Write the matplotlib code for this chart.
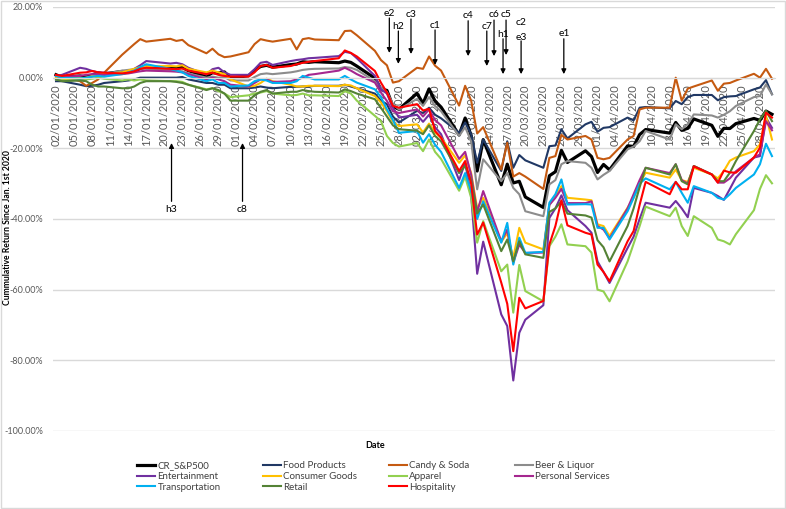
import matplotlib
matplotlib.use("Agg")
import matplotlib.pyplot as plt
import matplotlib.dates as mdates
from matplotlib.patches import Rectangle
import pandas as pd

plt.rcParams['font.family'] = ['Lato', 'DejaVu Sans']

# __ trading days Jan 2 - Apr 30 2020 __
dates = pd.bdate_range('2020-01-02', '2020-04-30')
dates = dates.drop(pd.to_datetime(['2020-01-20', '2020-02-17', '2020-04-10']))

# __ cumulative (log) returns in % __
sp500 = [0.83, 0.13, 0.48, 0.20, 0.69, 1.35, 1.06, 1.76, 1.61, 1.80, 2.63, 3.01, 2.75, 2.78, 2.89, 1.98, 0.40, 1.40, 1.31, 1.62, -0.16,
         0.56, 2.05, 3.17, 3.50, 2.96, 3.69, 3.86, 4.50, 4.34, 4.52, 4.23, 4.70, 4.32, 3.26, -0.15, -3.23, -3.61, -8.12, -8.95,
         -4.45, -7.29, -3.17, -6.62, -8.34, -16.24, -11.42, -16.43, -26.42, -17.54, -30.30, -24.48, -29.80, -29.33, -33.77, -36.74, -27.77, -26.62, -20.57, -24.00, -20.70, -22.32,
         -26.83, -24.57, -26.10, -19.30, -19.46, -16.11, -14.68, -15.69, -12.68, -14.91, -14.33, -11.68, -13.49, -16.60, -14.33, -14.39, -13.01, -11.55, -12.07, -9.45, -10.37]
food = [-1.0, -1.0, -2.0, -2.4, -2.3, -2.0, -1.5, -1.0, -0.8, -0.5, 0.0, 0.0, 0.0, 0.0, 0.2, -0.5, -1.5, -1.5, -2.0, -2.0, -3.0,
        -3.0, -2.8, -2.5, -2.8, -3.0, -2.6, -2.6, -2.5, -2.5, -2.3, -2.3, -2.0, -2.5, -3.0, -4.5, -6.5, -7.5, -11.0, -12.7,
        -9.4, -10.0, -8.5, -10.5, -11.5, -15.6, -12.7, -16.0, -24.1, -17.5, -26.4, -18.0, -25.5, -21.9, -23.4, -25.5, -19.4, -19.2, -14.6, -17.2, -13.2, -12.5,
        -15.3, -14.2, -14.0, -11.3, -12.1, -8.5, -8.3, -8.7, -6.6, -7.5, -5.5, -4.9, -4.9, -6.4, -5.5, -5.3, -5.2, -3.3, -2.8, -0.7, -4.7]
candy = [0.5, 0.3, -1.0, -2.3, -1.5, -0.5, 1.4, 6.5, 8.0, 9.5, 10.9, 10.2, 11.0, 10.4, 10.7, 9.2, 6.9, 8.2, 6.6, 5.8, 6.0,
         7.2, 9.5, 10.9, 10.5, 10.2, 11.0, 8.0, 10.9, 11.2, 10.8, 10.6, 13.2, 13.3, 12.0, 7.6, 5.0, 3.5, -1.4, -1.0,
         2.8, 2.5, 6.0, 3.4, 2.0, -7.9, -2.3, -6.5, -15.8, -14.0, -26.0, -18.4, -28.0, -27.0, -28.0, -31.5, -22.7, -22.2, -16.2, -17.5, -16.5, -17.5,
         -22.7, -23.1, -22.7, -17.5, -16.5, -9.0, -8.5, -8.5, 0.0, -6.5, -3.1, -2.5, -0.8, -3.7, -1.7, -1.5, -0.8, 1.1, 0.0, 2.5, -0.3]
beer = [0.2, 0.0, -0.3, -0.5, 0.3, 1.0, 1.0, 2.0, 2.2, 2.4, 2.6, 2.5, 2.2, 2.0, 1.8, 1.2, 0.0, 0.3, 0.0, 0.2, -0.8,
        -0.8, 0.2, 1.0, 1.2, 1.0, 1.5, 1.8, 2.2, 2.4, 2.5, 2.6, 3.0, 2.8, 2.2, -1.0, -2.8, -4.0, -7.5, -9.0,
        -6.0, -8.0, -5.5, -8.0, -9.5, -16.5, -14.0, -18.0, -31.6, -23.1, -29.3, -27.0, -31.2, -33.0, -37.8, -39.2, -30.2, -29.0, -24.5, -23.6, -24.1, -25.5,
        -28.8, -27.5, -26.4, -20.3, -19.5, -18.0, -15.1, -17.5, -13.2, -14.6, -13.2, -10.4, -10.7, -11.3, -10.5, -9.5, -8.0, -5.5, -5.2, -1.9, -4.7]
entertainment = [0.5, 0.8, 2.8, 2.5, 1.9, 1.5, 1.4, 1.2, 1.5, 2.5, 3.5, 4.7, 4.0, 4.2, 3.8, 2.8, 0.9, 2.4, 2.8, 1.5, 0.8,
                 0.8, 2.4, 4.2, 4.5, 3.6, 4.7, 5.0, 5.2, 5.5, 5.6, 6.1, 7.3, 7.0, 5.5, 0.5, -3.3, -4.5, -8.5, -11.3,
                 -10.5, -12.5, -10.5, -14.0, -16.0, -29.0, -24.0, -33.5, -55.5, -46.4, -67.0, -70.3, -85.7, -72.2, -68.5, -64.4, -39.7, -37.0, -33.3, -37.5, -42.0, -43.9,
                 -52.0, -55.0, -58.1, -48.2, -45.0, -40.0, -35.4, -36.8, -34.9, -37.0, -39.5, -31.2, -32.6, -33.5, -34.6, -31.5, -28.3, -22.6, -22.2, -11.3, -14.2]
consumer = [0.0, -0.5, -0.3, 0.0, 0.5, 1.0, 1.0, 1.5, 2.0, 2.5, 3.0, 3.2, 3.3, 3.2, 3.5, 2.5, 1.5, 2.0, 1.5, 1.0, -0.5,
            -2.5, -2.3, -1.5, -0.3, -1.0, -2.0, -2.5, -2.5, -2.3, -2.3, -2.4, -2.0, -2.2, -3.0, -5.2, -7.0, -9.5, -12.5, -13.7,
            -13.2, -15.5, -13.0, -15.5, -17.0, -24.1, -22.0, -27.0, -37.0, -34.0, -46.5, -44.0, -51.0, -42.5, -46.7, -48.6, -36.0, -33.5, -30.7, -34.0, -34.5, -34.7,
            -41.5, -42.0, -44.8, -36.8, -34.0, -30.0, -26.9, -28.3, -26.0, -29.0, -29.5, -25.5, -27.4, -28.5, -26.4, -23.5, -22.6, -20.8, -18.9, -10.8, -17.5]
apparel = [-0.5, -0.3, 0.0, -0.5, -0.3, 0.0, -0.3, -0.8, -0.5, -0.8, -0.5, -0.8, -1.0, -1.0, -1.2, -2.0, -3.3, -3.0, -3.8, -4.5, -5.5,
           -5.0, -4.5, -4.2, -3.8, -4.5, -5.0, -4.9, -4.5, -5.0, -5.0, -5.2, -3.8, -4.5, -6.5, -10.8, -12.3, -16.5, -18.5, -19.5,
           -18.5, -20.8, -17.5, -21.0, -23.0, -32.0, -28.0, -34.0, -46.7, -40.6, -54.8, -52.9, -66.5, -53.0, -60.4, -63.3, -47.7, -45.0, -41.5, -47.2, -47.7, -49.5,
           -60.0, -60.5, -63.3, -52.0, -47.0, -42.0, -36.5, -39.2, -36.8, -42.0, -44.8, -39.2, -42.5, -45.8, -46.3, -47.2, -44.3, -37.5, -31.5, -27.6, -29.9]
personal = [0.5, 0.3, 0.5, 0.8, 1.0, 1.0, 0.8, 1.0, 1.2, 1.5, 1.8, 2.0, 1.8, 1.7, 1.5, 1.0, -0.5, 0.0, -0.5, -1.0, -2.0,
            -2.5, -1.5, -0.5, -0.5, -1.2, -1.0, -0.5, 0.0, 0.8, 1.0, 2.0, 2.8, 2.0, 1.0, -1.4, -4.2, -6.6, -9.5, -10.0,
            -9.0, -11.0, -9.0, -12.0, -13.5, -23.0, -21.0, -27.5, -38.0, -32.1, -46.3, -43.0, -52.4, -47.2, -49.6, -49.5, -36.0, -34.0, -31.5, -35.5, -35.5, -35.0,
            -42.0, -43.0, -45.5, -37.0, -33.0, -29.0, -25.5, -27.0, -24.5, -29.0, -30.0, -25.0, -27.4, -29.7, -29.7, -28.5, -26.5, -22.6, -21.7, -12.3, -14.9]
transport = [0.5, 0.0, -0.3, 0.0, 0.3, 0.5, 0.3, 1.0, 1.5, 2.0, 3.0, 3.8, 2.5, 2.0, 1.5, 0.5, -1.0, -0.5, -1.5, -1.5, -2.5,
             -2.2, -1.0, -0.5, -0.8, -1.5, -1.5, -1.0, 0.5, 0.0, -0.5, -0.5, 0.5, -0.5, -1.4, -3.3, -5.5, -9.0, -12.0, -15.6,
             -15.1, -18.4, -16.0, -19.0, -21.0, -31.2, -27.0, -32.0, -40.0, -35.0, -46.7, -41.1, -52.9, -45.3, -49.6, -49.3, -35.4, -33.0, -28.8, -35.9, -35.8, -35.9,
             -42.5, -42.5, -45.8, -37.8, -34.0, -30.0, -28.5, -31.6, -29.5, -32.6, -35.4, -30.7, -32.6, -34.0, -34.5, -33.0, -31.2, -27.4, -24.5, -18.7, -22.2]
retail = [-0.5, -1.0, -0.8, -1.0, -2.0, -2.5, -2.5, -3.0, -3.0, -2.5, -1.5, -1.0, -1.0, -1.2, -1.5, -2.0, -3.5, -3.0, -3.5, -4.5, -6.5,
          -6.5, -5.0, -4.0, -3.5, -4.5, -4.0, -4.0, -3.5, -3.8, -4.0, -4.2, -3.3, -3.8, -4.5, -6.1, -8.5, -11.0, -13.5, -14.6,
          -15.0, -16.0, -13.5, -16.5, -18.0, -27.0, -25.0, -29.0, -38.5, -35.9, -49.1, -45.8, -52.0, -46.3, -50.0, -51.0, -38.0, -37.0, -35.0, -38.5, -39.0, -39.6,
          -46.0, -48.0, -52.0, -42.0, -37.0, -31.0, -25.5, -27.4, -24.5, -29.3, -30.2, -25.0, -27.4, -29.3, -29.3, -26.9, -23.6, -15.1, -11.8, -9.4, -12.3]
hospitality = [0.8, 0.5, 1.4, 1.5, 1.9, 1.5, 1.4, 1.2, 1.4, 1.8, 2.5, 2.8, 2.5, 2.4, 2.6, 2.0, 1.0, 1.4, 0.8, 0.5, 0.3,
               0.3, 1.5, 3.3, 3.6, 2.8, 3.3, 3.8, 4.2, 4.5, 4.7, 5.5, 7.7, 7.0, 6.0, 1.9, -1.4, -4.2, -8.0, -8.5,
               -7.5, -9.3, -8.8, -15.1, -17.0, -26.4, -23.6, -30.0, -44.4, -41.0, -58.0, -64.0, -77.4, -62.3, -65.3, -63.2, -47.2, -42.0, -34.7, -41.8, -43.9, -44.4,
               -52.9, -55.0, -57.6, -46.3, -43.4, -36.0, -29.5, -33.0, -29.5, -31.6, -31.6, -25.1, -27.4, -29.7, -26.3, -26.8, -26.9, -22.6, -19.8, -9.9, -11.3]

series = [
    ('CR_S&P500', sp500, 'black', 2.3),
    ('Food Products', food, '#203864', 1.5),
    ('Candy & Soda', candy, '#C55A11', 1.5),
    ('Beer & Liquor', beer, '#8C8C8C', 1.5),
    ('Entertainment', entertainment, '#7030A0', 1.5),
    ('Consumer Goods', consumer, '#FFC000', 1.5),
    ('Apparel', apparel, '#92D050', 1.5),
    ('Personal Services', personal, '#A5278F', 1.5),
    ('Transportation', transport, '#00B0F0', 1.5),
    ('Retail', retail, '#548235', 1.5),
    ('Hospitality', hospitality, '#FF0000', 1.5),
]

yticks = [20, 0, -20, -40, -60, -80, -100]
xticks = pd.date_range('2020-01-02', '2020-04-30', freq='3D')

# __ event arrows: label, days after Jan 2, label y, arrow tail y, arrow head y __
events = [
    ('e2', 55.4, 18.3, 16.9, 7.0),
    ('h2', 56.9, 14.6, 13.2, 3.9),
    ('c3', 59.0, 18.0, 16.6, 6.7),
    ('c1', 63.0, 14.9, 13.5, 3.6),
    ('c4', 68.5, 17.5, 16.1, 6.1),
    ('c7', 71.6, 14.6, 13.2, 3.3),
    ('c6', 72.8, 17.8, 16.3, 6.1),
    ('c5', 74.8, 17.8, 16.3, 6.4),
    ('h1', 74.3, 12.1, 11.0, 1.0),
    ('e3', 77.3, 11.5, 10.4, 1.0),
    ('e1', 84.4, 12.4, 11.0, 1.0),
    ('h3', 19.2, -37.2, -35.0, -18.5),
    ('c8', 31.0, -37.2, -35.0, -18.5),
]

W, H = 786, 509
fig = plt.figure(figsize=(W / 100, H / 100), dpi=100)
ax = fig.add_axes([53 / W, 78 / H, 722 / W, 424 / H])

handles = {}
for name, vals, col, lw in series:
    ln, = ax.plot(dates, vals, color=col, lw=lw, label=name, solid_joinstyle='round')
    handles[name] = ln

x0 = pd.Timestamp('2020-01-02')
ax.set_xlim(x0 - pd.Timedelta(hours=12), pd.Timestamp('2020-04-30') + pd.Timedelta(hours=12))
ax.set_ylim(-100, 20)

ax.set_yticks(yticks)
ax.set_yticklabels([f'{v:.2f}%' for v in yticks])
ax.set_xticks(xticks)
ax.set_xticklabels([d.strftime('%d/%m/%Y') for d in xticks])
ax.tick_params(axis='y', length=0, pad=7, labelsize=6.5, labelcolor='#595959')
ax.tick_params(axis='x', length=0, pad=5, labelsize=8, labelcolor='#595959', labelrotation=90)
ax.yaxis.grid(True, color='#D9D9D9', lw=1)
ax.set_axisbelow(True)
for s in ['top', 'right', 'left']:
    ax.spines[s].set_visible(False)
ax.spines['bottom'].set_position(('data', 0))
ax.spines['bottom'].set_color('#D9D9D9')

# __ event markers __
base = mdates.date2num(x0)
for lab, dd, ty, tail, head in events:
    ax.annotate('', xy=(base + dd, head), xytext=(base + dd, tail),
                arrowprops=dict(arrowstyle='-|>', color='black', lw=0.9, mutation_scale=7,
                                shrinkA=0, shrinkB=0))
    ax.text(base + dd, ty, lab, ha='center', va='center', fontsize=7.5, color='black')
ax.text(base + 77.3, 15.5, 'c2', ha='center', va='center', fontsize=7.5, color='black')

fig.text(7.5 / W, 1 - 228 / H, 'Cummulative Return Since Jan. 1st 2020', rotation=90,
         ha='center', va='center', fontsize=6.2, fontweight='bold', color='black')
fig.text(375 / W, 1 - 445 / H, 'Date', ha='center', va='center', fontsize=6.5,
         fontweight='bold', color='black')

# __ legend, one column at a time to keep Excel-like spacing __
legend_cols = [['CR_S&P500', 'Entertainment', 'Transportation'],
               ['Food Products', 'Consumer Goods', 'Retail'],
               ['Candy & Soda', 'Apparel', 'Hospitality'],
               ['Beer & Liquor', 'Personal Services']]
col_x = [137, 263, 389, 515]
for cx, names in zip(col_x, legend_cols):
    fig.legend([handles[n] for n in names], names, loc='upper left',
               bbox_to_anchor=(cx / W, 1 - 461 / H), frameon=False, fontsize=7,
               handlelength=1.9, handletextpad=0.2, borderpad=0, borderaxespad=0,
               labelspacing=0.2, labelcolor='#404040')

fig.patches.append(Rectangle((0.001, 0.001), 0.998, 0.997, transform=fig.transFigure,
                             fill=False, edgecolor='#D9D9D9', lw=1))

fig.savefig('out.png', dpi=100)
